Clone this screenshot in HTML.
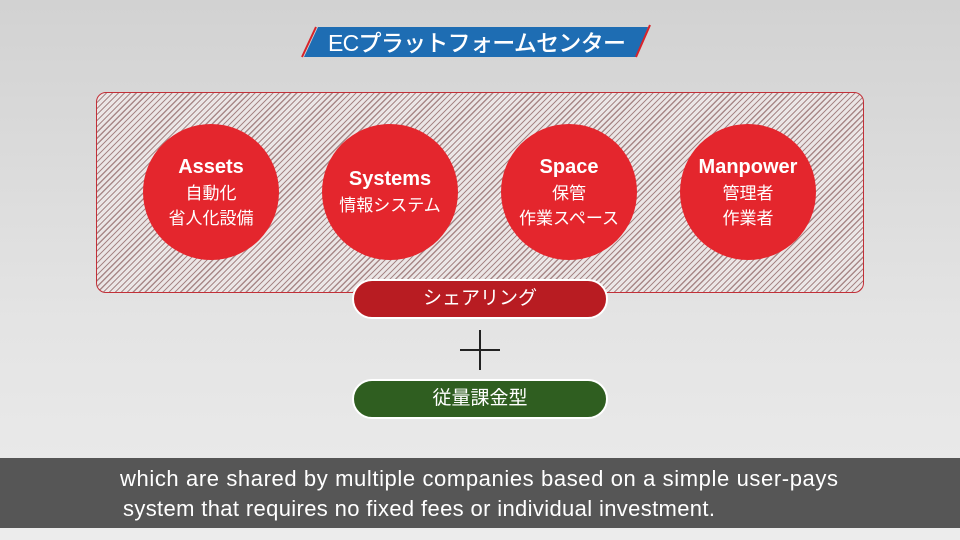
<!DOCTYPE html>
<html><head><meta charset="utf-8"><style>
*{margin:0;padding:0;box-sizing:border-box}
body{width:960px;height:540px;overflow:hidden;position:relative;background:linear-gradient(#d2d2d2,#e4e4e4 60%,#ececec);font-family:"Liberation Sans","Noto Sans CJK JP",sans-serif}
.box{position:absolute;left:96px;top:92px;width:768px;height:201px;border:1.5px solid #c23038;border-radius:10px;background:repeating-linear-gradient(135deg,#ebe6e6 0 2px,#a88888 2px 3.2px,#ebe6e6 3.2px 4.2px)}
.c{position:absolute;width:136px;height:136px;border-radius:50%;background:#e4262d;color:#fff;text-align:center;display:flex;flex-direction:column;justify-content:center;top:124px}
.c b{font-size:20px;line-height:27px}
.c span{font-size:17px;line-height:25px}
.pill{position:absolute;left:352px;width:256px;height:40px;border-radius:20px;border:2px solid #fff;color:#fff;font-size:19px;text-align:center;line-height:36px}
.sub{position:absolute;left:0;top:458px;width:960px;height:70px;background:rgba(70,70,70,0.9)}
</style></head><body>
<svg style="position:absolute;left:0;top:0" width="960" height="120">
<polygon points="318,27 648,27 636,57 304,57" fill="#1e6db3"/>
<line x1="316" y1="27" x2="302" y2="57" stroke="#d8232a" stroke-width="2"/>
<line x1="650" y1="25" x2="636" y2="57" stroke="#d8232a" stroke-width="2"/>
<text x="477" y="51" fill="#fff" font-size="23" font-weight="500" text-anchor="middle" font-family="Liberation Sans,Noto Sans CJK JP,sans-serif" textLength="298">ECプラットフォームセンター</text>
</svg>
<div class="box"></div>
<div class="c" style="left:143px"><b>Assets</b><span>自動化</span><span>省人化設備</span></div>
<div class="c" style="left:322px"><b>Systems</b><span>情報システム</span></div>
<div class="c" style="left:501px"><b>Space</b><span>保管</span><span>作業スペース</span></div>
<div class="c" style="left:680px"><b>Manpower</b><span>管理者</span><span>作業者</span></div>
<div class="pill" style="top:279px;background:#b81c22">シェアリング</div>
<div style="position:absolute;left:460px;top:349px;width:40px;height:2px;background:#222"></div>
<div style="position:absolute;left:479px;top:330px;width:2px;height:40px;background:#222"></div>
<div class="pill" style="top:379px;background:#2f5e20">従量課金型</div>
<div class="sub"></div>
<svg style="position:absolute;left:0;top:458px" width="960" height="70">
<text x="120" y="28" fill="#fff" font-size="22" textLength="718" font-family="Liberation Sans,sans-serif">which are shared by multiple companies based on a simple user-pays</text>
<text x="123" y="58" fill="#fff" font-size="22" textLength="592" font-family="Liberation Sans,sans-serif">system that requires no fixed fees or individual investment.</text>
</svg>
</body></html>
